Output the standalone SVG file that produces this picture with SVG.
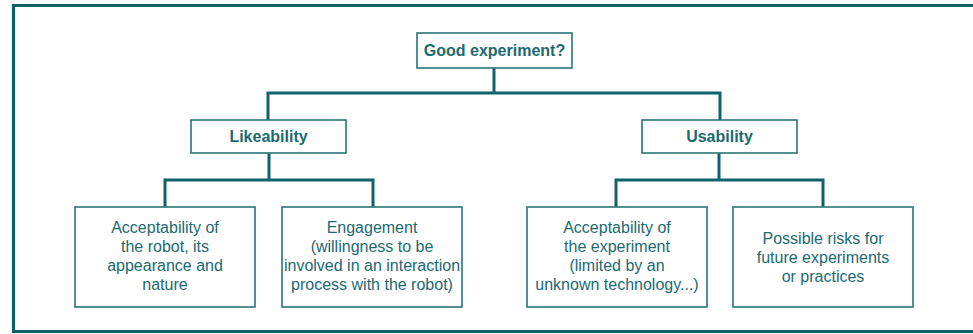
<svg xmlns="http://www.w3.org/2000/svg" width="973" height="334" viewBox="0 0 973 334">
<style>
.box{fill:#ffffff;stroke:#2a7378;stroke-width:1.6}
.con{fill:none;stroke:#10636a;stroke-width:3}
.frame{fill:none;stroke:#0e6068;stroke-width:3.2}
text{font-family:"Liberation Sans",Arial,sans-serif;font-size:16px;fill:#1b6a6f;text-anchor:middle}
.b{font-weight:bold}
</style>
<rect width="973" height="334" fill="#ffffff"/>
<path class="frame" d="M975 5.5H13.5V331.5H975"/>
<g id="connectors">
<path class="con" d="M494 68V93M268 120V93H720V120"/>
<path class="con" d="M269 153V180M165 207V180H373V207"/>
<path class="con" d="M719 153V180M616 207V180H823V207"/>
</g>
<g id="root">
<rect class="box" x="417" y="33" width="155" height="35"/>
<text class="b" x="494.5" y="56">Good experiment?</text>
</g>
<g id="likeability">
<rect class="box" x="191" y="120" width="155" height="33"/>
<text class="b" x="268.5" y="142">Likeability</text>
</g>
<g id="usability">
<rect class="box" x="642" y="120" width="155" height="33"/>
<text class="b" x="719.5" y="142">Usability</text>
</g>
<g id="acc-robot">
<rect class="box" x="75" y="207" width="180" height="100"/>
<text x="165" y="233">Acceptability of</text>
<text x="165" y="252">the robot, its</text>
<text x="165" y="271">appearance and</text>
<text x="165" y="290">nature</text>
</g>
<g id="engagement">
<rect class="box" x="282" y="207" width="180" height="100"/>
<text x="372" y="233">Engagement</text>
<text x="372" y="252">(willingness to be</text>
<text x="372" y="271">involved in an interaction</text>
<text x="372" y="290">process with the robot)</text>
</g>
<g id="acc-experiment">
<rect class="box" x="527" y="207" width="180" height="100"/>
<text x="617" y="233">Acceptability of</text>
<text x="617" y="252">the experiment</text>
<text x="617" y="271">(limited by an</text>
<text x="617" y="290">unknown technology...)</text>
</g>
<g id="risks">
<rect class="box" x="733" y="207" width="180" height="100"/>
<text x="823" y="244">Possible risks for</text>
<text x="823" y="263">future experiments</text>
<text x="823" y="282">or practices</text>
</g>
</svg>
